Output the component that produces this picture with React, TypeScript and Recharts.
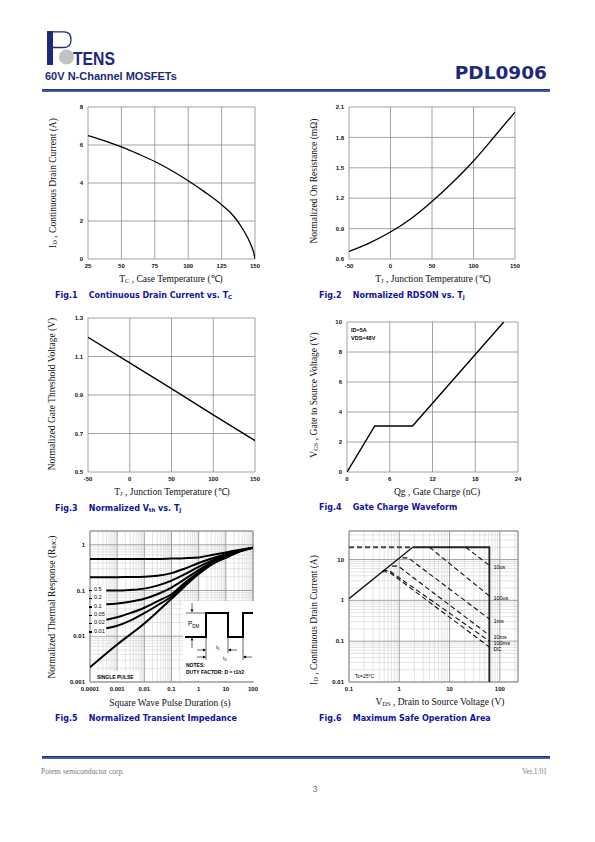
import React from 'react';
import {
  CartesianGrid,
  Line,
  LineChart,
  ReferenceArea,
  ReferenceDot,
  XAxis,
  YAxis,
} from 'recharts';

// Fig.1 continuous drain current vs case temperature
const caseTemp = [25, 37.5, 50, 62.5, 75, 87.5, 100, 112.5, 125, 130, 135, 140, 145, 147.5, 149, 150];
const drainCurrent = [6.5, 6.22, 5.9, 5.53, 5.13, 4.66, 4.12, 3.52, 2.86, 2.55, 2.17, 1.67, 1.05, 0.65, 0.35, 0];

// Fig.2 normalized RDSON vs junction temperature
const junctionTemp = [-50, -25, 0, 25, 50, 75, 100, 125, 150];
const rdsOn = [0.675, 0.76, 0.866, 1.0, 1.167, 1.357, 1.567, 1.806, 2.05];

// Fig.3 normalized Vth vs junction temperature
const vthTemp = [-50, 0, 50, 100, 150];
const vth = [1.2, 1.067, 0.933, 0.797, 0.663];

// Fig.4 gate charge
const gateCharge = [0, 3.9, 9.2, 22];
const gateVoltage = [0, 3.07, 3.07, 10];

// Fig.5 transient thermal impedance
const pulseTimeA = [0.0001, 0.001, 0.003, 0.01, 0.03, 0.1, 0.3, 1, 3, 10, 30, 100];
const pulseTimeB = [0.0004, 0.001, 0.003, 0.01, 0.03, 0.1, 0.3, 1, 3, 10, 30, 100];
const singleTime = [0.0001, 0.001, 0.01, 0.1, 1, 3, 10, 30, 100];
const duty05 = [0.49, 0.49, 0.49, 0.49, 0.49, 0.5, 0.51, 0.53, 0.6, 0.68, 0.77, 0.86];
const duty02 = [0.196, 0.196, 0.197, 0.2, 0.21, 0.24, 0.3, 0.4, 0.5, 0.62, 0.74, 0.86];
const duty01 = [0.1, 0.1, 0.103, 0.11, 0.128, 0.165, 0.225, 0.33, 0.45, 0.59, 0.73, 0.86];
const duty005 = [0.05, 0.052, 0.057, 0.066, 0.083, 0.116, 0.175, 0.28, 0.41, 0.56, 0.72, 0.86];
const duty002 = [0.023, 0.026, 0.032, 0.042, 0.058, 0.083, 0.145, 0.25, 0.39, 0.54, 0.71, 0.86];
const duty001 = [0.015, 0.017, 0.022, 0.032, 0.047, 0.074, 0.135, 0.24, 0.38, 0.53, 0.7, 0.86];
const singlePulse = [0.0021, 0.0066, 0.019, 0.066, 0.23, 0.37, 0.52, 0.7, 0.86];
const dutyLabels = ['0.5', '0.2', '0.1', '0.05', '0.02', '0.01'];

// Fig.6 safe operating area (VDS, ID)
const soaRiseV = [0.1, 1.85];
const soaRiseI = [1.1, 20];
const soaTopV = [1.85, 62, 62];
const soaTopI = [20, 20, 0.01];
const soaDashV = [0.1, 1.85];
const soaDashI = [20, 20];
const soaLines = [
  { name: '10us', v: [21, 62], i: [20, 7.2] },
  { name: '100us', v: [4, 62], i: [20, 1.28] },
  { name: '1ms', v: [1.15, 1.5, 62], i: [11, 11, 0.35] },
  { name: '10ms', v: [0.72, 0.95, 62], i: [6.9, 6.9, 0.14] },
  { name: '100ms', v: [0.46, 0.62, 62], i: [5.4, 5.4, 0.1] },
  { name: 'DC', v: [0.46, 0.62, 62], i: [5.0, 5.0, 0.072] },
];

const NAVY = '#1d2a78';
const CAPTION = '#12129c';
const GRID = '#8c8c8c';
const MINOR = '#d2d2d2';
const sans = '"Liberation Sans", Arial, sans-serif';
const serif = '"Liberation Serif", "Times New Roman", serif';
const tick = { fontSize: 6, fill: '#111', fontFamily: sans, fontWeight: 700 };

const zip = (xs: number[], ys: number[]) => xs.map((x, i) => ({ x, y: ys[i] }));

function logMinors(from: number, to: number, extra: number[] = []) {
  const out: number[] = [];
  for (let e = from; e < to; e++) {
    for (let k = 2; k <= 9; k++) out.push(Number((k * 10 ** e).toPrecision(3)));
  }
  return out.concat(extra);
}

const xProps = {
  type: 'number' as const,
  dataKey: 'x',
  height: 20,
  tick,
  tickLine: false,
  axisLine: false,
  tickSize: 3,
  tickMargin: 2,
  interval: 0 as const,
  allowDataOverflow: true,
};
const yProps = {
  type: 'number' as const,
  width: 40,
  tick,
  tickLine: false,
  axisLine: false,
  tickSize: 3,
  tickMargin: 2,
  interval: 0 as const,
  allowDataOverflow: true,
};

function Plot({ x, y, w, h, data, children }: any) {
  return (
    <div style={{ position: 'absolute', left: x - 40, top: y - 5 }}>
      <LineChart width={w + 45} height={h + 25} data={data} margin={{ top: 5, right: 5, left: 0, bottom: 0 }}>
        {children}
      </LineChart>
    </div>
  );
}

const Sub = ({ children }: any) => (
  <span style={{ fontSize: '0.68em', verticalAlign: '-0.2em' }}>{children}</span>
);

function Txt({ x, y, anchor = 'start', style, children }: any) {
  const tx = anchor === 'middle' ? '-50%' : anchor === 'end' ? '-100%' : '0';
  return (
    <div
      style={{
        position: 'absolute',
        left: x,
        top: y,
        transform: `translate(${tx},-50%)`,
        whiteSpace: 'pre',
        lineHeight: 1,
        ...style,
      }}
    >
      {children}
    </div>
  );
}

const axisTitle = { fontFamily: serif, fontSize: 9.5, color: '#111' };
const captionStyle = { fontFamily: '"DejaVu Sans", Verdana, sans-serif', fontWeight: 700, fontSize: 8, color: CAPTION };

function Caption({ x, y, n, children }: any) {
  return (
    <Txt x={x} y={y} style={captionStyle}>
      {`Fig.${n}    `}
      {children}
    </Txt>
  );
}

function YTitle({ x, y, children }: any) {
  return (
    <div
      style={{
        position: 'absolute',
        left: x,
        top: y,
        transform: 'translate(-50%,-50%) rotate(-90deg)',
        whiteSpace: 'nowrap',
        lineHeight: 1,
        ...axisTitle,
      }}
    >
      {children}
    </div>
  );
}

function Logo() {
  return (
    <svg width={110} height={42} style={{ position: 'absolute', left: 44, top: 28 }}>
      <defs>
        <pattern id="globeDots" width="1.6" height="1.6" patternUnits="userSpaceOnUse">
          <rect width="1.6" height="1.6" fill="#f2f2f2" />
          <circle cx="0.8" cy="0.8" r="0.62" fill="#7d7d7d" />
        </pattern>
      </defs>
      <rect x={3} y={3} width={6} height={34} fill={NAVY} />
      <path d="M9,3.8 H20 Q27,3.8 27,11.5 Q27,19.5 20,19.5 H9" fill="none" stroke={NAVY} strokeWidth={1.3} />
      <circle cx={22.5} cy={29} r={7.6} fill="url(#globeDots)" />
      <text
        x={29}
        y={37}
        fontSize={19}
        fontWeight={700}
        fontFamily='"Liberation Sans Narrow", "Liberation Sans", sans-serif'
        fill={NAVY}
        textLength={42}
        lengthAdjust="spacingAndGlyphs"
      >
        TENS
      </text>
    </svg>
  );
}

function PulseInset() {
  const s = { stroke: '#000', strokeWidth: 0.6, fill: 'none' };
  const head = (x: number, y: number, dir: number) => (
    <path d={`M${x},${y} l${-3 * dir},-1.4 v2.8 z`} fill="#000" />
  );
  return (
    <svg width={71} height={80} style={{ position: 'absolute', left: 183, top: 601 }}>
      <rect x={0} y={0} width={71} height={80} fill="#fff" />
      <path d="M2,36 H23 V12 H45 V36 H60 V12 H70" fill="none" stroke="#000" strokeWidth={2} />
      <line x1={3} y1={12} x2={22} y2={12} {...s} />
      <line x1={9} y1={2} x2={9} y2={9} {...s} />
      <path d="M9,11.5 l-1.4,-3 h2.8 z" fill="#000" />
      <line x1={9} y1={40} x2={9} y2={47} {...s} />
      <path d="M9,36.5 l-1.4,3 h2.8 z" fill="#000" />
      <text x={5} y={25} fontSize={6.5} fontFamily={sans}>
        P<tspan fontSize={4.5} dy={1.5}>DM</tspan>
      </text>
      <line x1={23} y1={36} x2={23} y2={59} {...s} />
      <line x1={45} y1={36} x2={45} y2={52} {...s} />
      <line x1={60} y1={36} x2={60} y2={59} {...s} />
      <line x1={14} y1={49} x2={22} y2={49} {...s} />
      {head(23, 49, 1)}
      <line x1={54} y1={49} x2={46} y2={49} {...s} />
      {head(45, 49, -1)}
      <line x1={14} y1={56} x2={22} y2={56} {...s} />
      {head(23, 56, 1)}
      <line x1={69} y1={56} x2={61} y2={56} {...s} />
      {head(60, 56, -1)}
      <text x={33} y={48} fontSize={5.5} fontFamily={sans}>
        t<tspan fontSize={4} dy={1}>1</tspan>
      </text>
      <text x={40} y={59} fontSize={5.5} fontFamily={sans}>
        t<tspan fontSize={4} dy={1}>2</tspan>
      </text>
      <text x={3} y={66} fontSize={5} fontFamily={sans} fontWeight={700}>NOTES:</text>
      <text x={3} y={73} fontSize={5} fontFamily={sans} fontWeight={700}>DUTY FACTOR: D = t1/t2</text>
    </svg>
  );
}

export default function App() {
  const fig1 = zip(caseTemp, drainCurrent);
  const fig2 = zip(junctionTemp, rdsOn);
  const fig3 = zip(vthTemp, vth);
  const fig4 = zip(gateCharge, gateVoltage);
  const fig5 = [
    { d: zip(pulseTimeA, duty05) },
    { d: zip(pulseTimeA, duty02) },
    { d: zip(pulseTimeB, duty01) },
    { d: zip(pulseTimeB, duty005) },
    { d: zip(pulseTimeB, duty002) },
    { d: zip(pulseTimeB, duty001) },
    { d: zip(singleTime, singlePulse) },
  ];
  const dashed = { strokeDasharray: '5 3', stroke: '#111', strokeWidth: 1.1 };

  return (
    <div style={{ position: 'absolute', left: 0, top: 0, width: 595, height: 842, background: '#fff' }}>
      {/* header */}
      <Logo />
      <Txt x={45} y={76} style={{ fontFamily: sans, fontWeight: 700, fontSize: 11, color: NAVY }}>
        60V N-Channel MOSFETs
      </Txt>
      <Txt x={547} y={73} anchor="end" style={{ fontFamily: '"DejaVu Sans", sans-serif', fontWeight: 700, fontSize: 18.5, color: NAVY }}>
        PDL0906
      </Txt>
      <div style={{ position: 'absolute', left: 42, top: 89, width: 508, height: 3, background: 'linear-gradient(#1d2a78, #5a6fc8)' }} />

      {/* Fig.1 */}
      <Plot x={88} y={107} w={167} h={152} data={fig1}>
        <CartesianGrid stroke={GRID} strokeWidth={0.8} />
        <XAxis {...xProps} domain={[25, 150]} ticks={[25, 50, 75, 100, 125, 150]} />
        <YAxis {...yProps} domain={[0, 8]} ticks={[0, 2, 4, 6, 8]} />
        <Line type="monotone" dataKey="y" stroke="#000" strokeWidth={1.3} dot={false} activeDot={false} isAnimationActive={false} />
      </Plot>
      <YTitle x={54} y={183}>
        I<Sub>D</Sub> , Continuous Drain Current (A)
      </YTitle>
      <Txt x={171} y={280} anchor="middle" style={axisTitle}>
        T<Sub>C</Sub> , Case Temperature (℃)
      </Txt>
      <Caption x={55} y={296} n={1}>
        Continuous Drain Current vs. T<Sub>C</Sub>
      </Caption>

      {/* Fig.2 */}
      <Plot x={349} y={107} w={166} h={152} data={fig2}>
        <CartesianGrid stroke={GRID} strokeWidth={0.8} />
        <XAxis {...xProps} domain={[-50, 150]} ticks={[-50, 0, 50, 100, 150]} />
        <YAxis {...yProps} domain={[0.6, 2.1]} ticks={[0.6, 0.9, 1.2, 1.5, 1.8, 2.1]} tickFormatter={(v: number) => v.toFixed(1)} />
        <Line type="monotone" dataKey="y" stroke="#000" strokeWidth={1.3} dot={false} activeDot={false} isAnimationActive={false} />
      </Plot>
      <YTitle x={315} y={181}>Normalized On Resistance (mΩ)</YTitle>
      <Txt x={433} y={280} anchor="middle" style={axisTitle}>
        T<Sub>J</Sub> , Junction Temperature (℃)
      </Txt>
      <Caption x={319} y={296} n={2}>
        Normalized RDSON vs. T<Sub>J</Sub>
      </Caption>

      {/* Fig.3 */}
      <Plot x={88} y={318} w={167} h={154} data={fig3}>
        <CartesianGrid stroke={GRID} strokeWidth={0.8} />
        <XAxis {...xProps} domain={[-50, 150]} ticks={[-50, 0, 50, 100, 150]} />
        <YAxis {...yProps} domain={[0.5, 1.3]} ticks={[0.5, 0.7, 0.9, 1.1, 1.3]} tickFormatter={(v: number) => v.toFixed(1)} />
        <Line type="linear" dataKey="y" stroke="#000" strokeWidth={1.3} dot={false} activeDot={false} isAnimationActive={false} />
      </Plot>
      <YTitle x={53} y={394}>Normalized Gate Threshold Voltage (V)</YTitle>
      <Txt x={172} y={493} anchor="middle" style={axisTitle}>
        T<Sub>J</Sub> , Junction Temperature (℃)
      </Txt>
      <Caption x={55} y={509} n={3}>
        Normalized V<Sub>th</Sub> vs. T<Sub>J</Sub>
      </Caption>

      {/* Fig.4 */}
      <Plot x={347} y={322} w={171} h={150} data={fig4}>
        <CartesianGrid stroke={GRID} strokeWidth={0.8} />
        <XAxis {...xProps} domain={[0, 24]} ticks={[0, 6, 12, 18, 24]} />
        <YAxis {...yProps} domain={[0, 10]} ticks={[0, 2, 4, 6, 8, 10]} />
        <Line type="linear" dataKey="y" stroke="#000" strokeWidth={1.4} dot={false} activeDot={false} isAnimationActive={false} />
      </Plot>
      <Txt x={351} y={331} style={{ fontFamily: sans, fontWeight: 700, fontSize: 5.5 }}>ID=5A</Txt>
      <Txt x={351} y={338.5} style={{ fontFamily: sans, fontWeight: 700, fontSize: 5.5 }}>VDS=48V</Txt>
      <YTitle x={315} y={395}>
        V<Sub>GS</Sub> , Gate to Source Voltage (V)
      </YTitle>
      <Txt x={437} y={493} anchor="middle" style={axisTitle}>
        Qg , Gate Charge (nC)
      </Txt>
      <Caption x={319} y={508} n={4}>
        Gate Charge Waveform
      </Caption>

      {/* Fig.5 */}
      <Plot x={90} y={531} w={163} h={151}>
        <CartesianGrid stroke={MINOR} strokeWidth={0.6} verticalValues={logMinors(-4, 2)} horizontalValues={logMinors(-3, 0)} />
        <CartesianGrid stroke={GRID} strokeWidth={0.8} />
        <ReferenceArea x1={0.0001} x2={100} y1={0.001} y2={2} fill="none" stroke={GRID} strokeWidth={0.8} />
        <XAxis {...xProps} scale="log" domain={[0.0001, 100]} ticks={[0.0001, 0.001, 0.01, 0.1, 1, 10, 100]} tickFormatter={(v: number) => String(v)} />
        <YAxis {...yProps} scale="log" domain={[0.001, 2]} ticks={[0.001, 0.01, 0.1, 1]} tickFormatter={(v: number) => String(v)} />
        {fig5.map((s, i) => (
          <Line key={i} data={s.d} type="monotone" dataKey="y" stroke="#000" strokeWidth={2} dot={false} activeDot={false} isAnimationActive={false} />
        ))}
      </Plot>
      <div style={{ position: 'absolute', left: 90.5, top: 585, width: 15, height: 51, background: '#fff' }} />
      {dutyLabels.map((lab, i) => (
        <React.Fragment key={lab}>
          <div style={{ position: 'absolute', left: 89, top: 589.5 + i * 8.35, width: 3, height: 1.4, background: '#000' }} />
          <Txt x={94} y={590 + i * 8.35} style={{ fontFamily: sans, fontSize: 5.5 }}>{lab}</Txt>
        </React.Fragment>
      ))}
      <div style={{ position: 'absolute', left: 91, top: 671, width: 48, height: 10, background: '#fff' }} />
      <Txt x={97} y={677} style={{ fontFamily: sans, fontWeight: 700, fontSize: 5 }}>SINGLE PULSE</Txt>
      <PulseInset />
      <YTitle x={53} y={607}>
        Normalized Thermal Response (R<Sub>θJC</Sub>)
      </YTitle>
      <Txt x={170} y={704} anchor="middle" style={axisTitle}>
        Square Wave Pulse Duration (s)
      </Txt>
      <Caption x={55} y={719} n={5}>
        Normalized Transient Impedance
      </Caption>

      {/* Fig.6 */}
      <Plot x={349} y={531} w={169} h={151}>
        <CartesianGrid stroke={MINOR} strokeWidth={0.6} verticalValues={logMinors(-1, 2, [200])} horizontalValues={logMinors(-2, 1, [20, 30, 40])} />
        <CartesianGrid stroke={GRID} strokeWidth={0.8} />
        <ReferenceArea x1={0.1} x2={230} y1={0.01} y2={50} fill="none" stroke={GRID} strokeWidth={0.8} />
        <XAxis {...xProps} scale="log" domain={[0.1, 230]} ticks={[0.1, 1, 10, 100]} tickFormatter={(v: number) => String(v)} />
        <YAxis {...yProps} scale="log" domain={[0.01, 50]} ticks={[0.01, 0.1, 1, 10]} tickFormatter={(v: number) => String(v)} />
        <Line data={zip(soaDashV, soaDashI)} dataKey="y" stroke="#444" strokeWidth={2} strokeDasharray="5 3" dot={false} activeDot={false} isAnimationActive={false} />
        <Line data={zip(soaRiseV, soaRiseI)} dataKey="y" stroke="#111" strokeWidth={1.3} dot={false} activeDot={false} isAnimationActive={false} />
        <Line data={zip(soaTopV, soaTopI)} dataKey="y" stroke="#222" strokeWidth={1.8} dot={false} activeDot={false} isAnimationActive={false} />
        {soaLines.map((s) => (
          <Line key={s.name} data={zip(s.v, s.i)} dataKey="y" {...dashed} dot={false} activeDot={false} isAnimationActive={false} />
        ))}
        {soaLines.map((s) => (
          <ReferenceDot
            key={`l-${s.name}`}
            x={s.v[s.v.length - 1]}
            y={s.i[s.i.length - 1]}
            r={0}
            fill="none"
            stroke="none"
            label={{ value: s.name, position: 'right', offset: 4, fontSize: 5.5, fill: '#000', fontFamily: sans, dy: 2 }}
          />
        ))}
      </Plot>
      <div style={{ position: 'absolute', left: 352, top: 671, width: 26, height: 10, background: '#fff' }} />
      <Txt x={355} y={676} style={{ fontFamily: sans, fontSize: 5 }}>Tc=25°C</Txt>
      <YTitle x={315} y={620}>
        I<Sub>D</Sub> , Continuous Drain Current (A)
      </YTitle>
      <Txt x={440} y={703} anchor="middle" style={axisTitle}>
        V<Sub>DS</Sub> , Drain to Source Voltage (V)
      </Txt>
      <Caption x={319} y={719} n={6}>
        Maximum Safe Operation Area
      </Caption>

      {/* footer */}
      <div style={{ position: 'absolute', left: 42, top: 756, width: 508, height: 3, background: 'linear-gradient(#1d2a78, #5a6fc8)' }} />
      <Txt x={41} y={772} style={{ fontFamily: serif, fontSize: 7.5, color: '#777' }}>Potens semiconductor corp.</Txt>
      <Txt x={547} y={772} anchor="end" style={{ fontFamily: serif, fontSize: 7.5, color: '#777' }}>Ver.1.01</Txt>
      <Txt x={315} y={789} anchor="middle" style={{ fontFamily: sans, fontSize: 9, color: '#777' }}>3</Txt>
    </div>
  );
}
